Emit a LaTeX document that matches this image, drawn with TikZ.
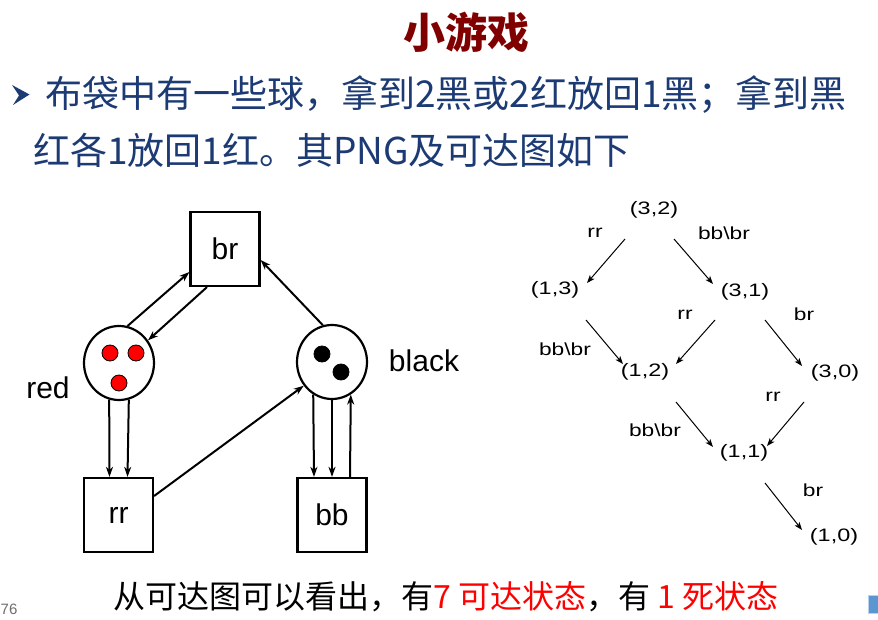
\documentclass[tikz,border=0pt]{standalone}
\usepackage{fontspec}
\setmainfont{Liberation Sans}
\newfontfamily\cjk{Noto Sans CJK SC}
\newfontfamily\widesans[FakeStretch=1.3]{Liberation Sans}
\usetikzlibrary{arrows.meta,shapes.geometric,calc}
\definecolor{titlered}{RGB}{128,0,0}
\definecolor{slideblue}{RGB}{28,58,115}
\definecolor{hotred}{RGB}{255,0,0}
\definecolor{pagegray}{RGB}{110,110,110}
\definecolor{iconblue}{RGB}{90,150,210}
\definecolor{iconedge}{RGB}{185,210,235}

\begin{document}
\begin{tikzpicture}[x=1pt,y=-1pt,
  place/.style={draw,line width=2.2pt,ellipse,minimum width=70pt,minimum height=74pt,inner sep=0pt},
  trans/.style={draw,line width=2.2pt,minimum width=69pt,minimum height=74pt,inner sep=0pt,font=\fontsize{30}{30}\selectfont},
  ball/.style={circle,draw,line width=0.8pt,minimum size=16pt,inner sep=0pt},
  flow/.style={line width=2pt,-{Stealth[length=10pt,width=7pt,inset=3pt]}},
  petrilab/.style={font=\fontsize{30}{30}\selectfont,inner sep=0pt},
  state/.style={font=\widesans\fontsize{18}{18}\selectfont,inner sep=0pt},
  edgelab/.style={font=\widesans\fontsize{17.5}{17.5}\selectfont,inner sep=0pt},
  reach/.style={line width=1pt,-{Stealth[length=8pt,width=6pt,inset=2pt]}},
]
\useasboundingbox (0,0) rectangle (878,620);
\fill[white] (0,0) rectangle (878,620);

% heading and problem statement
\node[font=\cjk\bfseries\fontsize{42}{42}\selectfont,text=titlered,inner sep=0pt] (title) at (466,32) {小游戏};
\fill[slideblue] (12,85) -- (29.5,94.5) -- (13,105) -- (19,95.5) -- cycle;
\node[font=\cjk\fontsize{37}{37}\selectfont,text=slideblue,anchor=west,inner sep=0pt] (line1) at (45,95)
  {布袋中有一些球，拿到2黑或2红放回1黑；拿到黑};
\node[font=\cjk\fontsize{37}{37}\selectfont,text=slideblue,anchor=west,inner sep=0pt] (line2) at (33,150)
  {红各1放回1红。其PNG及可达图如下};

% Petri net: places and transitions
\node[trans] (br) at (225,249) {br};
\node[trans] (rr) at (118.5,515) {rr};
\node[trans] (bb) at (332,515) {bb};
\node[place] (red) at (119,363) {};
\node[place] (black) at (332,362) {};
\node[ball,fill=hotred] (r1) at (110,353) {};
\node[ball,fill=hotred] (r2) at (136,353) {};
\node[ball,fill=hotred] (r3) at (119,383) {};
\node[ball,fill=black] (k1) at (322,354) {};
\node[ball,fill=black] (k2) at (341,372) {};
\node[petrilab] (redlab) at (48,388) {red};
\node[petrilab] (blacklab) at (424,361) {black};

% Petri net: arcs
\draw[flow] (red.77) -- ([yshift=-23pt]br.west);
\draw[flow] ([xshift=-18pt]br.south) -- (red.38);
\draw[flow] (black.104) -- ([yshift=-11pt]br.east);
\draw[flow] (red.-105) -- ([xshift=-9pt]rr.north);
\draw[flow] (red.-75) -- ([xshift=9pt]rr.north);
\draw[flow] ([yshift=19pt]rr.east) -- (black.220);
\draw[flow] (black.-120) -- ([xshift=-18pt]bb.north);
\draw[flow] (black.south) -- (bb.north);
\draw[flow] ([xshift=18pt]bb.north) -- (black.-60);

% reachability graph: states
\node[state] (s32) at (654,210) {(3,2)};
\node[state] (s13) at (555,290) {(1,3)};
\node[state] (s31) at (745,292) {(3,1)};
\node[state] (s12) at (645,372) {(1,2)};
\node[state] (s30) at (835,373) {(3,0)};
\node[state] (s11) at (744,453) {(1,1)};
\node[state] (s10) at (834,537) {(1,0)};

% reachability graph: firings
\draw[reach] ($(s32)+(-29,29)$) -- ($(s13)+(32,-7)$);
\draw[reach] ($(s32)+(20,29)$) -- ($(s31)+(-32,-8)$);
\draw[reach] ($(s13)+(31,30)$) -- ($(s12)+(-22,-8)$);
\draw[reach] ($(s31)+(-30,28)$) -- ($(s12)+(31,-8)$);
\draw[reach] ($(s31)+(20,28)$) -- ($(s30)+(-33,-7)$);
\draw[reach] ($(s12)+(31,30)$) -- ($(s11)+(-31,-6)$);
\draw[reach] ($(s30)+(-31,29)$) -- ($(s11)+(23,-7)$);
\draw[reach] ($(s11)+(21,30)$) -- ($(s10)+(-32,-7)$);

\node[edgelab] (e1) at (595,233) {rr};
\node[edgelab] (e2) at (724,233) {bb\textbackslash br};
\node[edgelab] (e3) at (685,315) {rr};
\node[edgelab] (e4) at (804,314) {br};
\node[edgelab] (e5) at (565,349) {bb\textbackslash br};
\node[edgelab] (e6) at (773,397) {rr};
\node[edgelab] (e7) at (655,430) {bb\textbackslash br};
\node[edgelab] (e8) at (813,490) {br};

% conclusion line
\node[font=\cjk\fontsize{32}{32}\selectfont,anchor=west,inner sep=0pt] (concl) at (113,597)
  {从可达图可以看出，有\textcolor{hotred}{7 可达状态}，有 \textcolor{hotred}{1 死状态}};

% page number and corner icon
\node[font=\fontsize{15}{15}\selectfont,text=pagegray,anchor=west,inner sep=0pt] (pageno) at (0.5,609) {76};
\filldraw[fill=iconblue,draw=iconedge,line width=1pt] (868,595) rectangle (882,613);
\end{tikzpicture}
\end{document}
